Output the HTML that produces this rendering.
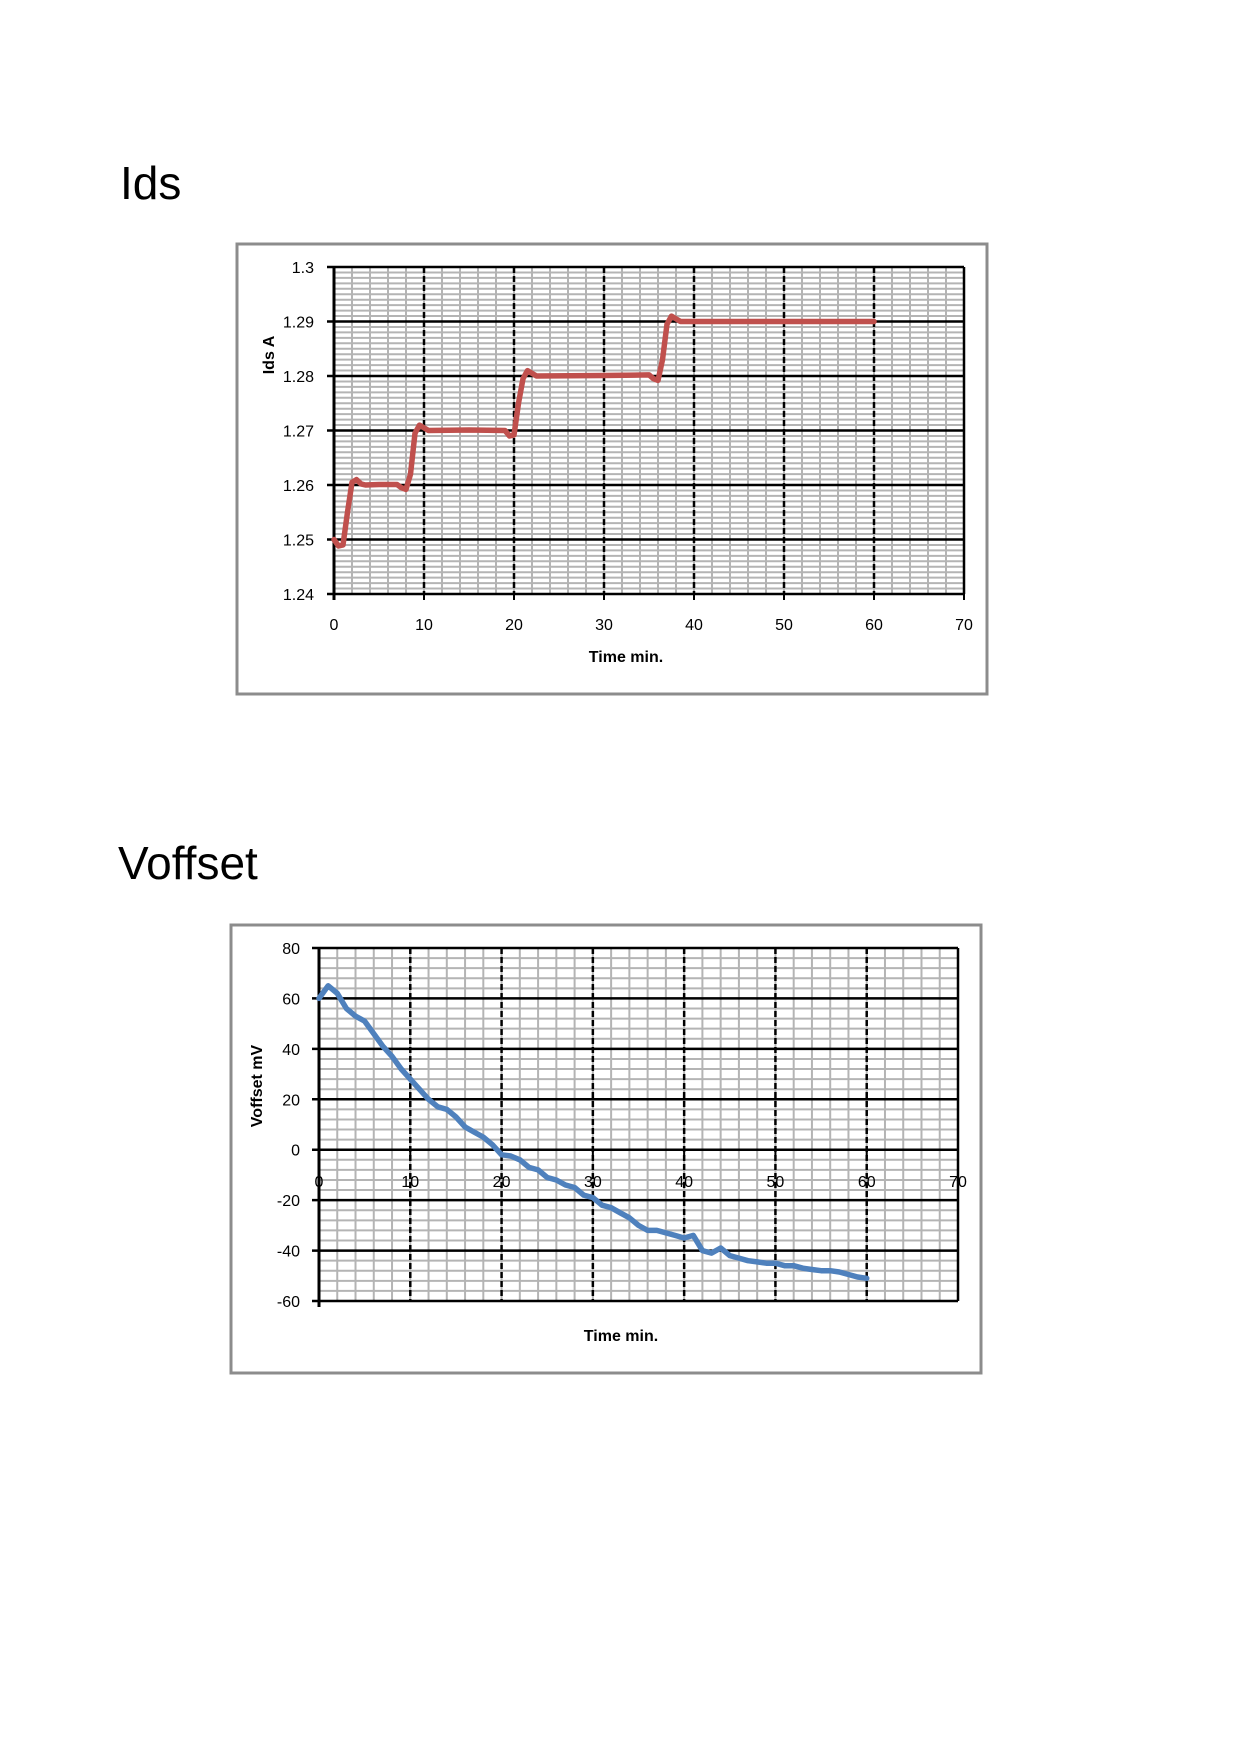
<!DOCTYPE html>
<html><head><meta charset="utf-8"><style>
html,body{margin:0;padding:0;background:#fff;}
body{width:1240px;height:1754px;position:relative;overflow:hidden;font-family:"Liberation Sans",sans-serif;}
.h{position:absolute;font-size:46px;color:#000;margin:0;font-weight:normal;}
svg{position:absolute;left:0;top:0;}
</style></head><body>
<h1 class="h" style="left:120px;top:156px;">Ids</h1>
<h1 class="h" style="left:118px;top:836px;">Voffset</h1>
<svg id="s" width="1240" height="1754"></svg>
<script>
// Ids chart data
const idsTimes = [0,0.5,1,1.5,2,2.5,3,3.5,5,7,7.5,8,8.5,9,9.5,10,10.5,15,19,19.5,20,20.5,21,21.5,22,22.5,30,35,35.5,36,36.5,37,37.5,38,38.5,60];
const idsValues = [1.25,1.2488,1.249,1.255,1.2605,1.261,1.2602,1.26,1.2601,1.2601,1.2595,1.2592,1.262,1.2695,1.271,1.2705,1.27,1.2701,1.27,1.269,1.2692,1.275,1.2795,1.281,1.2805,1.28,1.2801,1.2802,1.2795,1.2792,1.283,1.2895,1.291,1.2905,1.29,1.29];
const idsXTicks = [0,10,20,30,40,50,60,70];
const idsYTicks = [1.24,1.25,1.26,1.27,1.28,1.29,1.3];
const idsYLabels = ["1.24","1.25","1.26","1.27","1.28","1.29","1.3"];
// Voffset chart data
const vTimes = [0,1,2,3,4,5,6,7,8,9,10,11,12,13,14,15,16,17,18,19,20,21,22,23,24,25,26,27,28,29,30,31,32,33,34,35,36,37,38,39,40,41,42,43,44,45,46,47,48,49,50,51,52,53,54,55,56,57,58,59,60];
const vValues = [60,65,62,56,53,51,46,41,37,32,28,24,20,17,16,13,9,7,5,2,-2,-2.5,-4,-7,-8,-11,-12,-14,-15,-18,-19,-22,-23,-25,-27,-30,-32,-32,-33,-34,-35,-34,-40,-41,-39,-42,-43,-44,-44.5,-45,-45,-46,-46,-47,-47.5,-48,-48,-48.5,-49.5,-50.5,-51];
const vXTicks = [0,10,20,30,40,50,60,70];
const vYTicks = [-60,-40,-20,0,20,40,60,80];

const NS="http://www.w3.org/2000/svg";
const svg=document.getElementById('s');
function mk(tag,attrs,parent,txt){const e=document.createElementNS(NS,tag);for(const k in attrs)e.setAttribute(k,attrs[k]);if(txt!==undefined)e.textContent=txt;(parent||svg).appendChild(e);return e;}

function chart(o){
  const g=mk('g',{});
  
  
  const fr=mk('rect',{x:o.box[0],y:o.box[1],width:o.box[2],height:o.box[3],fill:'#fff',stroke:'#8c8c8c','stroke-width':3},g);
  
  
  const X=v=>o.x0+(v-o.xmin)/(o.xmax-o.xmin)*(o.x1-o.x0);
  const Y=v=>o.y0+(v-o.ymin)/(o.ymax-o.ymin)*(o.y1-o.y0);
  // minor grid
  for(let v=o.xmin;v<=o.xmax+1e-9;v+=o.xminor){mk('line',{x1:X(v),x2:X(v),y1:o.y1,y2:o.y0,stroke:'#b4b4b4','stroke-width':2},g);}
  for(let v=o.ymin;v<=o.ymax+1e-9;v+=o.yminor){mk('line',{x1:o.x0,x2:o.x1,y1:Y(v),y2:Y(v),stroke:'#b4b4b4','stroke-width':2},g);}
  // major
  o.xticks.forEach(v=>{if(v!==o.xmin&&v!==o.xmax)mk('line',{x1:X(v),x2:X(v),y1:o.y1,y2:o.y0,stroke:'#000','stroke-width':2.5,'stroke-dasharray':'6,3'},g);});
  o.yticks.forEach(v=>{mk('line',{x1:o.x0-7,x2:o.x1,y1:Y(v),y2:Y(v),stroke:'#000','stroke-width':2.5},g);});
  mk('line',{x1:o.x0,x2:o.x0,y1:o.y1,y2:o.y0+6,stroke:'#000','stroke-width':3},g);
  mk('line',{x1:o.x1,x2:o.x1,y1:o.y1,y2:o.y0,stroke:'#000','stroke-width':2.5},g);
  o.xticks.forEach(v=>{mk('line',{x1:X(v),x2:X(v),y1:o.axisY,y2:o.axisY+6,stroke:'#000','stroke-width':2},g);});
  // labels
  o.xticks.forEach(v=>{const t=mk('text',{x:X(v),y:o.xlabY,'text-anchor':'middle','font-size':16,fill:'#000'},g,String(v));
    });
  o.yticks.forEach((v,i)=>{const t=mk('text',{x:o.ylabX,y:Y(v)+6,'text-anchor':'end','font-size':16,fill:'#000'},g,o.ylabels?o.ylabels[i]:String(v));
    });
  const xt=mk('text',{x:o.xtitle[0],y:o.xtitle[1],'text-anchor':'middle','font-size':16,'font-weight':'bold'},g,'Time  min.');
  
  const yt=mk('text',{x:0,y:0,'text-anchor':'middle','font-size':16,'font-weight':'bold',transform:`translate(${o.ytitle[0]},${o.ytitle[1]}) rotate(-90)`},g,o.ytext);
  
  const d=o.xs.map((t,i)=>(i?'L':'M')+X(t).toFixed(1)+','+Y(o.ys[i]).toFixed(1)).join(' ');
  const p=mk('path',{d:d,fill:'none',stroke:o.color,'stroke-width':5.5,'stroke-linejoin':'round','stroke-linecap':'round'},g);
  
  
}
chart({name:'ids-chart',box:[237,244,750,450],x0:334,x1:964,y0:594,y1:267,xmin:0,xmax:70,ymin:1.24,ymax:1.30,xminor:2,yminor:0.001,
  xticks:idsXTicks,yticks:idsYTicks,ylabels:idsYLabels,axisY:594,xlabY:630,ylabX:314,xtitle:[626,662],ytitle:[274,355],ytext:'Ids  A',
  xs:idsTimes,ys:idsValues,color:'#c0504d'});
chart({name:'voffset-chart',box:[231,925,750,448],x0:319,x1:958,y0:1301,y1:948,xmin:0,xmax:70,ymin:-60,ymax:80,xminor:2,yminor:4,
  xticks:vXTicks,yticks:vYTicks,axisY:1150,xlabY:1187,ylabX:300,xtitle:[621,1341],ytitle:[262,1086],ytext:'Voffset  mV',
  xs:vTimes,ys:vValues,color:'#4f81bd'});
</script>
</body></html>
